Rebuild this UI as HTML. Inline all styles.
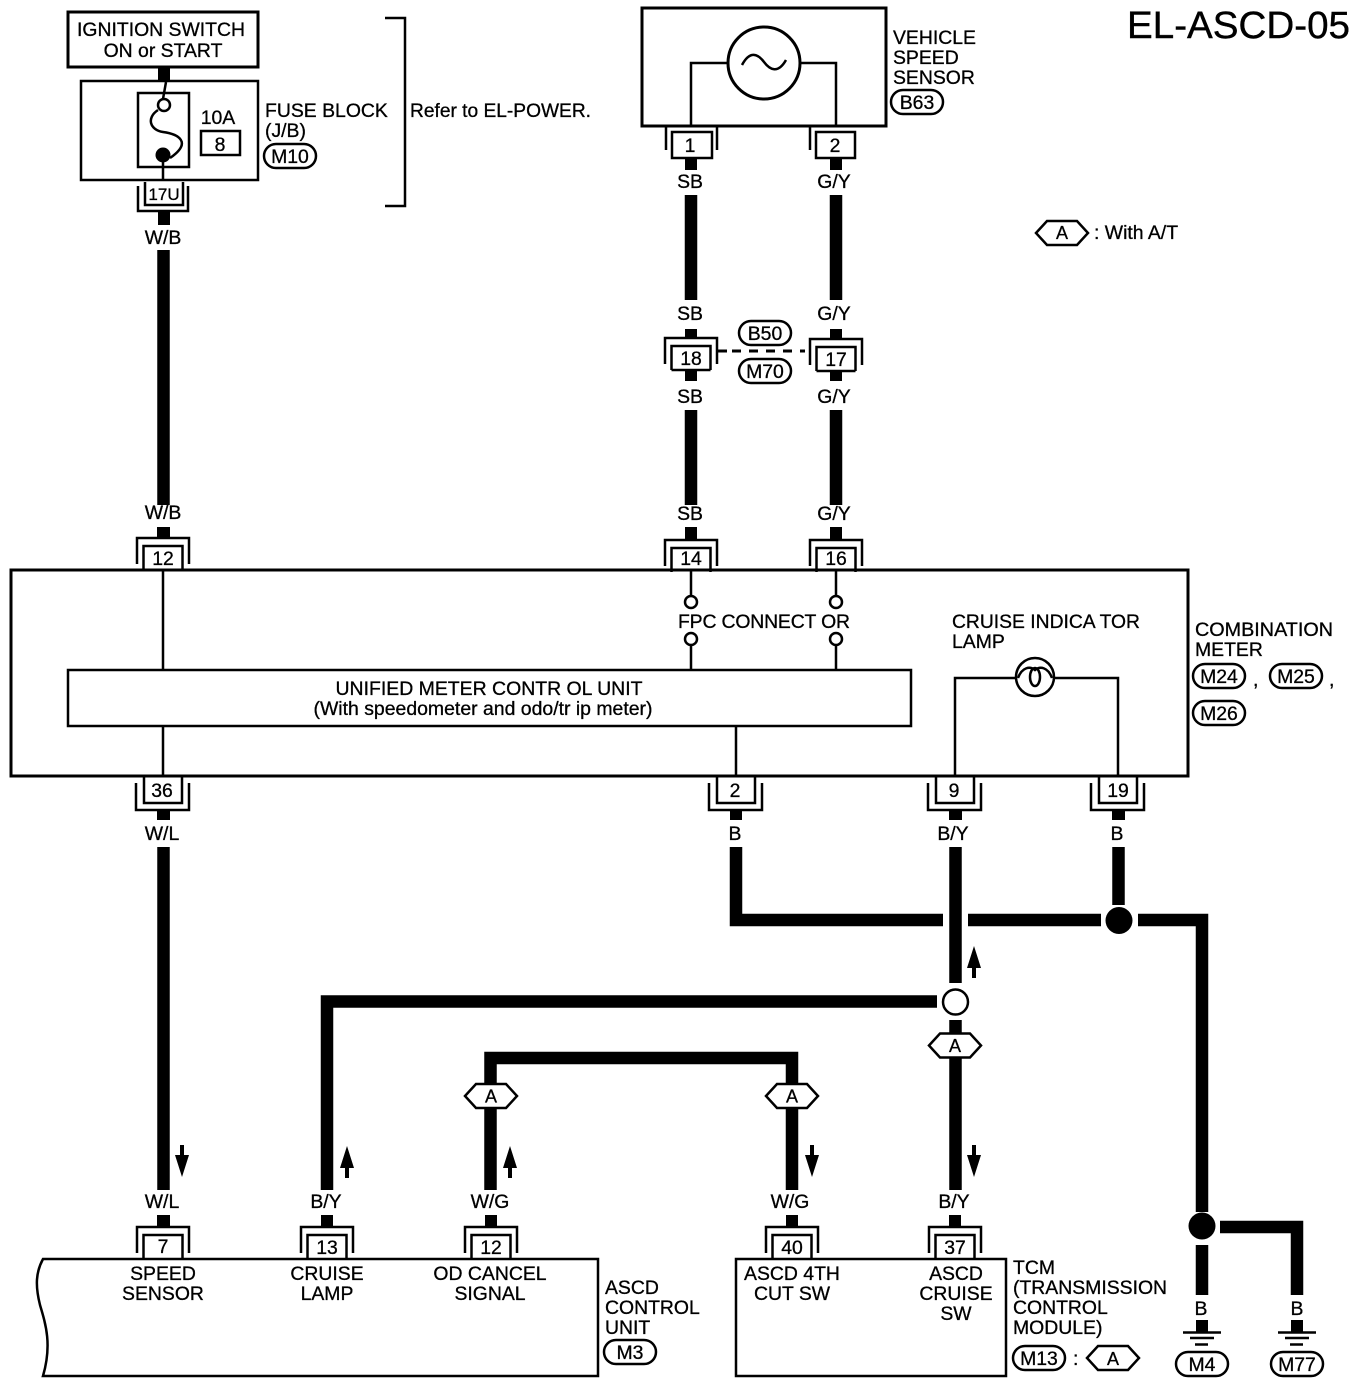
<!DOCTYPE html>
<html><head><meta charset="utf-8"><style>
html,body{margin:0;padding:0;background:#fff}
svg{display:block}
text{font-family:"Liberation Sans",sans-serif;font-size:19.4px;fill:#000;stroke:#000;stroke-width:.3px}
.m{text-anchor:middle}
.t{fill:none;stroke:#000;stroke-width:2.5}
.w{fill:none;stroke:#000;stroke-width:12.5;stroke-linejoin:miter}
.f{fill:#fff;stroke:#000;stroke-width:2.5}
</style></head><body>
<svg width="1360" height="1384" viewBox="0 0 1360 1384" xmlns="http://www.w3.org/2000/svg">
<defs>
<g id="ct"><path class="t" d="M-26,26V0H26V26M-19.500,32V8H19.500V32"/></g>
<g id="cb"><path class="t" d="M-27,-27V0H26V-27M-19,-34V-7H19V-34"/></g>
<path id="hex" d="M-26,0L-15,-12H15L26,0L15,12H-15Z" fill="#fff" stroke="#000" stroke-width="2.5"/>
<rect id="ov" x="-26" y="-12" width="52" height="24" rx="12" ry="12" fill="#fff" stroke="#000" stroke-width="2.5"/>
<path id="au" d="M0,0L-7,22H-2V32H2V22H7Z"/>
<path id="ad" d="M0,32L-7,10H-2V0H2V10H7Z"/>
</defs>
<rect width="1360" height="1384" fill="#fff"/>

<text x="1127" y="38" style="font-size:38px;stroke-width:.4px" textLength="223" lengthAdjust="spacingAndGlyphs">EL-ASCD-05</text>

<!-- Ignition and fuse block -->
<rect x="68" y="12" width="190" height="55" fill="none" stroke="#000" stroke-width="3"/>
<text class="m" x="161" y="36" textLength="168" lengthAdjust="spacingAndGlyphs">IGNITION SWITCH</text>
<text class="m" x="163" y="57">ON or START</text>
<rect x="158" y="67" width="12" height="15"/>
<rect x="81" y="81" width="177" height="99" class="t"/>
<rect x="138" y="93" width="51" height="74" class="t" stroke-width="3"/>
<path class="t" d="M166,82L163,99M163,160V181"/>
<path class="t" d="M158,110C146,118 150,130 163,132C178,134 193,142 170,158"/>
<circle cx="164" cy="105" r="6" class="f"/>
<circle cx="163" cy="155" r="7.5"/>
<text class="m" x="218" y="124">10A</text>
<rect x="201" y="131" width="39" height="24" class="t"/>
<text class="m" x="220" y="151">8</text>
<text x="265" y="117">FUSE BLOCK</text>
<text x="265" y="137">(J/B)</text>
<use href="#ov" x="290" y="156"/><text class="m" x="290" y="163">M10</text>
<path class="t" d="M385,18H405V206H385"/>
<text x="410" y="117" textLength="181" lengthAdjust="spacingAndGlyphs">Refer to EL-POWER.</text>
<path class="t" d="M145,182V205H183V182M138,186V211H188V186"/>
<text class="m" x="164" y="200" style="font-size:17px">17U</text>
<rect x="158" y="212" width="12" height="13"/>
<text class="m" x="163" y="244">W/B</text>

<!-- Wires upper -->
<path class="w" d="M163.500,250V505M691,195V300M836,195V300M691,410V505M836,410V505"/>

<!-- Vehicle speed sensor -->
<rect x="642" y="8" width="244" height="118" fill="none" stroke="#000" stroke-width="3"/>
<path class="t" d="M728,63H691V126M800,63H836V126"/>
<circle cx="764" cy="63" r="36" fill="#fff" stroke="#000" stroke-width="3"/>
<path class="t" d="M742,65C750,50 758,54 764,62C770,70 778,74 786,60"/>
<text x="893" y="44">VEHICLE</text>
<text x="893" y="64">SPEED</text>
<text x="893" y="84">SENSOR</text>
<use href="#ov" x="917" y="102"/><text class="m" x="917" y="109">B63</text>

<path class="t" d="M666,126V150M717,126V150M810,126V150"/>
<rect x="672" y="132" width="40" height="26" class="t"/><text class="m" x="690" y="152">1</text>
<rect x="816" y="132" width="39" height="26" class="t"/><text class="m" x="835" y="152">2</text>
<rect x="685" y="158" width="12" height="12"/><rect x="830" y="158" width="12" height="12"/>
<text class="m" x="690" y="188">SB</text><text class="m" x="834" y="188">G/Y</text>
<text class="m" x="690" y="320">SB</text><text class="m" x="834" y="320">G/Y</text>
<rect x="685" y="329" width="12" height="10"/><rect x="830" y="329" width="12" height="10"/>
<use href="#ct" x="691" y="338"/><text class="m" x="691" y="365">18</text>
<use href="#ct" x="836" y="339"/><text class="m" x="836" y="366">17</text>
<path class="t" d="M671.500,370H710.500M816.500,371H855.500"/>
<rect x="685" y="371" width="12" height="10"/><rect x="830" y="371" width="12" height="10"/>
<path d="M717,351H727" stroke="#000" stroke-width="3"/>
<path d="M732,351H805" stroke="#000" stroke-width="3" stroke-dasharray="9,8"/>
<use href="#ov" x="765" y="333"/><text class="m" x="765" y="340">B50</text>
<use href="#ov" x="765" y="371"/><text class="m" x="765" y="378">M70</text>
<text class="m" x="690" y="403">SB</text><text class="m" x="834" y="403">G/Y</text>
<text class="m" x="690" y="520">SB</text><text class="m" x="834" y="520">G/Y</text>
<text class="m" x="163" y="519">W/B</text>

<!-- Legend -->
<use href="#hex" x="1062" y="233"/><text class="m" x="1062" y="239" style="font-size:18px">A</text>
<text x="1094" y="239">: With A/T</text>

<!-- Combination meter -->
<rect x="11" y="570" width="1177" height="206" fill="none" stroke="#000" stroke-width="3"/>
<rect x="157" y="527" width="13" height="12"/><rect x="685" y="527" width="12" height="12"/><rect x="830" y="527" width="12" height="12"/>
<use href="#ct" x="163" y="538"/><text class="m" x="163" y="565">12</text>
<use href="#ct" x="691" y="540"/><text class="m" x="691" y="565">14</text>
<use href="#ct" x="836" y="540"/><text class="m" x="836" y="565">16</text>
<path class="t" d="M163,570V670M691,570V596M836,570V596M691,645V670M836,645V670M163,726V776M736,726V776"/>
<circle cx="691" cy="602" r="6" class="f"/><circle cx="836" cy="602" r="6" class="f"/>
<circle cx="691" cy="639" r="6" class="f"/><circle cx="836" cy="639" r="6" class="f"/>
<text x="678" y="628" textLength="172" lengthAdjust="spacing">FPC CONNECT OR</text>
<rect x="68" y="670" width="843" height="56" class="t"/>
<text class="m" x="489" y="695" textLength="307" lengthAdjust="spacingAndGlyphs">UNIFIED METER CONTR OL UNIT</text>
<text class="m" x="483" y="715" textLength="339" lengthAdjust="spacingAndGlyphs">(With speedometer and odo/tr ip meter)</text>
<text x="952" y="628" textLength="188" lengthAdjust="spacingAndGlyphs">CRUISE INDICA TOR</text>
<text x="952" y="648">LAMP</text>
<path class="t" d="M955,776V678H1016M1054,678H1118V776"/>
<circle cx="1035" cy="677" r="19" class="f"/>
<path class="t" d="M1018,678C1022,667 1030,666 1035,670C1040,666 1048,667 1052,678"/>
<ellipse cx="1035" cy="677" rx="5" ry="9" class="t"/>
<text x="1195" y="636" textLength="138" lengthAdjust="spacingAndGlyphs">COMBINATION</text>
<text x="1195" y="656">METER</text>
<use href="#ov" x="1219" y="676"/><text class="m" x="1219" y="683">M24</text>
<text x="1253" y="686">,</text>
<use href="#ov" x="1296" y="676"/><text class="m" x="1296" y="683">M25</text>
<text x="1329" y="686">,</text>
<use href="#ov" x="1219" y="713"/><text class="m" x="1219" y="720">M26</text>

<use href="#cb" x="163" y="810"/><text class="m" x="162" y="797">36</text>
<use href="#cb" x="736" y="810"/><text class="m" x="735" y="797">2</text>
<use href="#cb" x="955" y="810"/><text class="m" x="954" y="797">9</text>
<use href="#cb" x="1118" y="810"/><text class="m" x="1118" y="797">19</text>
<rect x="157" y="810" width="13" height="10"/><rect x="730" y="810" width="12" height="10"/><rect x="949" y="810" width="13" height="10"/><rect x="1112" y="810" width="13" height="10"/>
<text class="m" x="162" y="840">W/L</text><text class="m" x="735" y="840">B</text><text class="m" x="953" y="840">B/Y</text><text class="m" x="1117" y="840">B</text>

<!-- Lower wires -->
<path class="w" d="M163.500,847V1190"/>
<path class="w" d="M736,847V920H943M968,920H1101M1138,920H1202V1212"/>
<path class="w" d="M1118.500,847V905"/>
<path class="w" d="M955.500,847V983"/>
<path class="w" d="M937,1001.500H327V1190"/>
<path class="w" d="M955.500,1020V1190"/>
<path class="w" d="M490.500,1190V1058H792V1190"/>
<circle cx="1119" cy="920.500" r="13.500"/>
<circle cx="955.500" cy="1002" r="12.500" class="f" stroke-width="3"/>
<use href="#hex" x="955" y="1045.500"/><text class="m" x="955" y="1052" style="font-size:18px">A</text>
<use href="#hex" x="491" y="1096"/><text class="m" x="491" y="1102.500" style="font-size:18px">A</text>
<use href="#hex" x="792" y="1096"/><text class="m" x="792" y="1102.500" style="font-size:18px">A</text>
<use href="#au" x="974" y="946"/>
<use href="#ad" x="182" y="1145"/>
<use href="#au" x="347" y="1146"/>
<use href="#au" x="510" y="1146"/>
<use href="#ad" x="812" y="1145"/>
<use href="#ad" x="974" y="1145"/>
<text class="m" x="162" y="1208">W/L</text><text class="m" x="326" y="1208">B/Y</text><text class="m" x="490" y="1208">W/G</text><text class="m" x="790" y="1208">W/G</text><text class="m" x="954" y="1208">B/Y</text>

<!-- ASCD control unit -->
<path class="t" d="M598,1259H43C36,1272 35,1285 40,1305C46,1325 52,1345 43,1376H598Z"/>
<rect x="736" y="1259" width="270" height="117" class="t"/>
<g>
<rect x="157" y="1215" width="13" height="12"/><rect x="321" y="1215" width="12" height="12"/><rect x="485" y="1215" width="12" height="12"/><rect x="786" y="1215" width="12" height="12"/><rect x="949" y="1215" width="12" height="12"/>
<use href="#ct" x="163" y="1227"/><text class="m" x="163" y="1253">7</text>
<use href="#ct" x="327" y="1227"/><text class="m" x="327" y="1254">13</text>
<use href="#ct" x="491" y="1227"/><text class="m" x="491" y="1254">12</text>
<use href="#ct" x="792" y="1227"/><text class="m" x="792" y="1254">40</text>
<use href="#ct" x="955" y="1227"/><text class="m" x="955" y="1254">37</text>
</g>
<text class="m" x="163" y="1280">SPEED</text><text class="m" x="163" y="1300">SENSOR</text>
<text class="m" x="327" y="1280">CRUISE</text><text class="m" x="327" y="1300">LAMP</text>
<text class="m" x="490" y="1280">OD CANCEL</text><text class="m" x="490" y="1300">SIGNAL</text>
<text x="605" y="1294">ASCD</text><text x="605" y="1314">CONTROL</text><text x="605" y="1334">UNIT</text>
<use href="#ov" x="630" y="1352"/><text class="m" x="630" y="1359">M3</text>
<text class="m" x="792" y="1280">ASCD 4TH</text><text class="m" x="792" y="1300">CUT SW</text>
<text class="m" x="956" y="1280">ASCD</text><text class="m" x="956" y="1300">CRUISE</text><text class="m" x="956" y="1320">SW</text>
<text x="1013" y="1274">TCM</text><text x="1013" y="1294">(TRANSMISSION</text><text x="1013" y="1314">CONTROL</text><text x="1013" y="1334">MODULE)</text>
<use href="#ov" x="1039" y="1358"/><text class="m" x="1039" y="1365">M13</text>
<text x="1073" y="1365">:</text>
<use href="#hex" x="1113" y="1358"/><text class="m" x="1113" y="1365" style="font-size:18px">A</text>

<!-- Grounds -->
<circle cx="1202" cy="1226" r="13.500"/>
<path class="w" d="M1220,1227H1297V1295M1202,1245V1295"/>
<text class="m" x="1201" y="1315">B</text><text class="m" x="1297" y="1315">B</text>
<rect x="1196" y="1320" width="12" height="12"/><rect x="1291" y="1320" width="12" height="12"/>
<path stroke="#000" stroke-width="2.500" d="M1183,1332.500H1221M1190,1338H1214M1195,1344.500H1208M1278,1332.500H1316M1285,1338H1309M1290,1344.500H1303"/>
<use href="#ov" x="1202" y="1364"/><text class="m" x="1202" y="1371">M4</text>
<use href="#ov" x="1297" y="1364"/><text class="m" x="1297" y="1371">M77</text>
</svg>
</body></html>
